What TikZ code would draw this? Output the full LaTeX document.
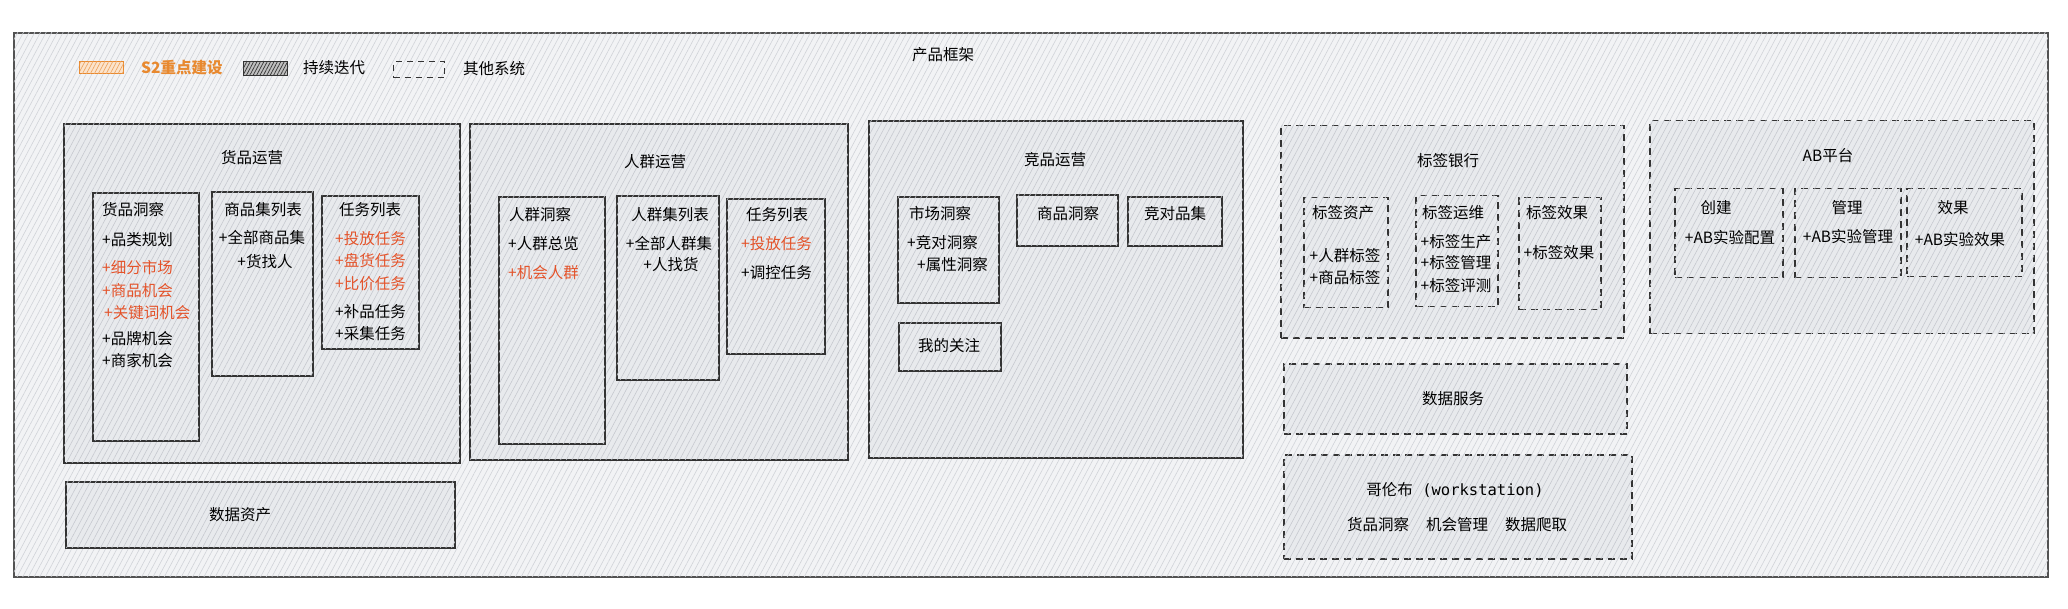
\documentclass[tikz,border=0pt]{standalone}
\usepackage{fontspec}
\setmainfont{Noto Sans CJK SC}
\newfontfamily\monof{DejaVu Sans Mono}
\usetikzlibrary{patterns.meta}
\definecolor{outerbg}{HTML}{F2F3F5}
\definecolor{outerhatch}{HTML}{D0D3D8}
\definecolor{boxbg}{HTML}{E8EAED}
\definecolor{boxhatch}{HTML}{C6C9CF}
\definecolor{linec}{HTML}{333333}
\definecolor{hl}{HTML}{E4532A}
\definecolor{s2}{HTML}{E8892F}
\definecolor{s2bg}{HTML}{FBE3CB}
\newcommand\fs{\fontsize{15.5}{18}\selectfont}
\newcommand\mkbox[6]{%
  \pgfmathsetmacro\bw{#4-#2}\pgfmathsetmacro\bh{#5-#3}%
  \node[#6, anchor=north west, minimum width=\bw pt, minimum height=\bh pt, inner sep=0pt] (#1) at (#2,#3) {};}
\tikzset{
  hatch/.style={postaction={pattern={Lines[angle=62,distance=5pt,line width=0.6pt]},pattern color=#1}},
  outerframe/.style={draw=linec!85, line width=1.7pt, fill=outerbg, hatch=outerhatch},
  solidbox/.style={draw=linec, line width=1.6pt, fill=boxbg, hatch=boxhatch},
  dashbox/.style={draw=linec, line width=1.5pt, dash pattern=on 7pt off 5pt, fill=boxbg, hatch=boxhatch},
  lgorange/.style={draw=s2, line width=1.4pt, fill=s2bg, postaction={pattern={Lines[angle=62,distance=3.5pt,line width=0.6pt]},pattern color=s2!80}},
  lggray/.style={draw=linec, line width=1.4pt, fill=gray!50, postaction={pattern={Lines[angle=62,distance=3pt,line width=0.7pt]},pattern color=linec}},
  lgdash/.style={draw=linec, line width=1.4pt, dash pattern=on 6pt off 5pt},
  t/.style={inner sep=0pt, font=\fs, text=black},
  tl/.style={t, anchor=west},
  r/.style={text=hl},
}
\begin{document}
\begin{tikzpicture}[x=1pt,y=-1pt]
\useasboundingbox (0,0) rectangle (2068,609);
\fill[white] (0,0) rectangle (2068,609);
% outer frame
\mkbox{frame}{13}{32}{2047}{576}{outerframe}
\node[t] (ftitle) at (943,55) {产品框架};
% legend
\mkbox{lg1}{79}{61}{123}{73}{lgorange}
\node[tl, text=s2, font=\fs\bfseries] (lg1t) at (141,68) {S2重点建设};
\mkbox{lg2}{243}{61}{287}{75}{lggray}
\node[tl] (lg2t) at (303,68) {持续迭代};
\mkbox{lg3}{393}{61}{444}{77}{lgdash}
\node[tl] (lg3t) at (463,69) {其他系统};
% 货品运营
\mkbox{hp}{63}{123}{459}{462}{solidbox}
\node[t] (hpt) at (252,158) {货品运营};
\mkbox{hpa}{92}{192}{198}{440}{solidbox}
\node[tl] (hpa0) at (102,210) {货品洞察};
\node[tl] (hpa1) at (102,240) {+品类规划};
\node[tl,r] (hpa2) at (102,268) {+细分市场};
\node[tl,r] (hpa3) at (102,291) {+商品机会};
\node[tl,r] (hpa4) at (104,313) {+关键词机会};
\node[tl] (hpa5) at (102,339) {+品牌机会};
\node[tl] (hpa6) at (102,361) {+商家机会};
\mkbox{hpb}{211}{191}{312}{375}{solidbox}
\node[t] (hpb0) at (263,210) {商品集列表};
\node[t] (hpb1) at (262,238) {+全部商品集};
\node[t] (hpb2) at (265,262) {+货找人};
\mkbox{hpc}{321}{195}{418}{348}{solidbox}
\node[t] (hpc0) at (370,210) {任务列表};
\node[tl,r] (hpc1) at (335,239) {+投放任务};
\node[tl,r] (hpc2) at (335,261) {+盘货任务};
\node[tl,r] (hpc3) at (335,284) {+比价任务};
\node[tl] (hpc4) at (335,312) {+补品任务};
\node[tl] (hpc5) at (335,334) {+采集任务};
% 人群运营
\mkbox{rq}{469}{123}{847}{459}{solidbox}
\node[t] (rqt) at (655,162) {人群运营};
\mkbox{rqa}{498}{196}{604}{443}{solidbox}
\node[tl] (rqa0) at (509,215) {人群洞察};
\node[tl] (rqa1) at (508,244) {+人群总览};
\node[tl,r] (rqa2) at (508,273) {+机会人群};
\mkbox{rqb}{616}{195}{718}{379}{solidbox}
\node[t] (rqb0) at (670,215) {人群集列表};
\node[t] (rqb1) at (669,244) {+全部人群集};
\node[t] (rqb2) at (671,265) {+人找货};
\mkbox{rqc}{726}{198}{824}{353}{solidbox}
\node[t] (rqc0) at (777,215) {任务列表};
\node[tl,r] (rqc1) at (741,244) {+投放任务};
\node[tl] (rqc2) at (741,273) {+调控任务};
% 竞品运营
\mkbox{jp}{868}{120}{1242}{457}{solidbox}
\node[t] (jpt) at (1055,160) {竞品运营};
\mkbox{jpa}{897}{196}{998}{302}{solidbox}
\node[tl] (jpa0) at (909,214) {市场洞察};
\node[tl] (jpa1) at (907,243) {+竞对洞察};
\node[tl] (jpa2) at (917,265) {+属性洞察};
\mkbox{jpb}{1016}{194}{1117}{245}{solidbox}
\node[t] (jpb0) at (1068,214) {商品洞察};
\mkbox{jpc}{1127}{196}{1221}{245}{solidbox}
\node[t] (jpc0) at (1175,214) {竞对品集};
\mkbox{jpd}{898}{322}{1000}{370}{solidbox}
\node[t] (jpd0) at (949,346) {我的关注};
% 标签银行
\mkbox{bq}{1280}{125}{1623}{337}{dashbox}
\node[t] (bqt) at (1448,161) {标签银行};
\mkbox{bqa}{1303}{197}{1387}{307}{dashbox}
\node[t] (bqa0) at (1343,213) {标签资产};
\node[t] (bqa1) at (1345,256) {+人群标签};
\node[t] (bqa2) at (1345,278) {+商品标签};
\mkbox{bqb}{1415}{195}{1497}{306}{dashbox}
\node[t] (bqb0) at (1453,213) {标签运维};
\node[t] (bqb1) at (1456,242) {+标签生产};
\node[t] (bqb2) at (1456,263) {+标签管理};
\node[t] (bqb3) at (1456,286) {+标签评测};
\mkbox{bqc}{1518}{197}{1600}{309}{dashbox}
\node[t] (bqc0) at (1557,213) {标签效果};
\node[t] (bqc1) at (1559,253) {+标签效果};
% AB平台
\mkbox{ab}{1649}{120}{2033}{333}{dashbox}
\node[t] (abt) at (1828,156) {AB平台};
\mkbox{aba}{1674}{188}{1782}{277}{dashbox}
\node[t] (aba0) at (1716,208) {创建};
\node[t] (aba1) at (1730,238) {+AB实验配置};
\mkbox{abb}{1794}{188}{1900}{277}{dashbox}
\node[t] (abb0) at (1847,208) {管理};
\node[t] (abb1) at (1848,237) {+AB实验管理};
\mkbox{abc}{1906}{188}{2021}{276}{dashbox}
\node[t] (abc0) at (1953,208) {效果};
\node[t] (abc1) at (1960,240) {+AB实验效果};
% 数据服务
\mkbox{sf}{1283}{363}{1626}{433}{dashbox}
\node[t] (sft) at (1453,399) {数据服务};
% 哥伦布
\mkbox{gl}{1283}{454}{1631}{558}{dashbox}
\node[t] (gl1) at (1455,490) {哥伦布{\monof\fs\ (workstation)}};
\node[t] (gl2) at (1457,525) {货品洞察\hspace{17pt}机会管理\hspace{17pt}数据爬取};
% 数据资产
\mkbox{zc}{65}{481}{454}{547}{solidbox}
\node[t] (zct) at (240,515) {数据资产};
\end{tikzpicture}
\end{document}
